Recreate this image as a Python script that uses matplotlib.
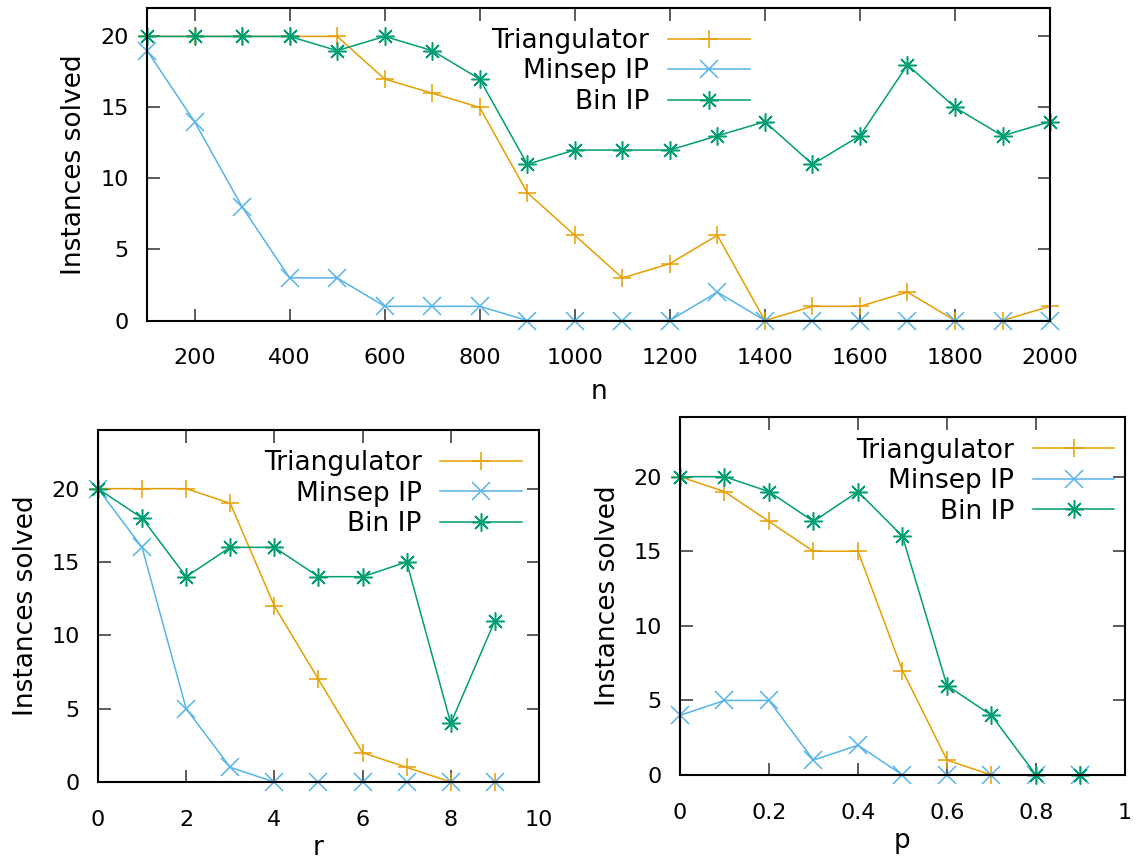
import matplotlib.pyplot as plt
from matplotlib.ticker import FuncFormatter

# data
n_vals = [100, 200, 300, 400, 500, 600, 700, 800, 900, 1000,
          1100, 1200, 1300, 1400, 1500, 1600, 1700, 1800, 1900, 2000]
n_tri = [20, 20, 20, 20, 20, 17, 16, 15, 9, 6, 3, 4, 6, 0, 1, 1, 2, 0, 0, 1]
n_minsep = [19, 14, 8, 3, 3, 1, 1, 1, 0, 0, 0, 0, 2, 0, 0, 0, 0, 0, 0, 0]
n_bin = [20, 20, 20, 20, 19, 20, 19, 17, 11, 12, 12, 12, 13, 14, 11, 13, 18, 15, 13, 14]

r_vals = [0, 1, 2, 3, 4, 5, 6, 7, 8, 9]
r_tri = [20, 20, 20, 19, 12, 7, 2, 1, 0, 0]
r_minsep = [20, 16, 5, 1, 0, 0, 0, 0, 0, 0]
r_bin = [20, 18, 14, 16, 16, 14, 14, 15, 4, 11]

p_vals = [0, 0.1, 0.2, 0.3, 0.4, 0.5, 0.6, 0.7, 0.8, 0.9]
p_tri = [20, 19, 17, 15, 15, 7, 1, 0, 0, 0]
p_minsep = [4, 5, 5, 1, 2, 0, 0, 0, 0, 0]
p_bin = [20, 20, 19, 17, 19, 16, 6, 4, 0, 0]

labels = ['Triangulator', 'Minsep IP', 'Bin IP']
colors = ['#e69f00', '#56b4e9', '#009e73']
markers = ['+', 'x', (8, 2, 0)]

plt.rcParams['font.family'] = 'DejaVu Sans'

fig = plt.figure(figsize=(11.39, 8.6), dpi=100)


def panel(rect, x, series, xlim, ylim, xticks, xlabel, legend_anchor):
    ax = fig.add_axes(rect)
    for ys, lab, c, m in zip(series, labels, colors, markers):
        ax.plot(x, ys, color=c, lw=1.1, marker=m, markersize=13,
                markeredgewidth=1.1, label=lab, clip_on=False)
    ax.set_xlim(*xlim)
    ax.set_ylim(*ylim)
    ax.set_xticks(xticks)
    ax.set_yticks([0, 5, 10, 15, 20])
    ax.xaxis.set_major_formatter(FuncFormatter(lambda v, pos: '%g' % v))
    ax.tick_params(direction='in', top=True, right=True, length=9, width=1.2,
                   labelsize=16, color='0.25')
    ax.tick_params(axis='x', pad=20)
    ax.tick_params(axis='y', pad=13)
    for s in ax.spines.values():
        s.set_linewidth(1.5)
    ax.set_xlabel(xlabel, fontsize=19)
    ax.set_ylabel('Instances solved', fontsize=19)
    ax.legend(loc='upper right', bbox_to_anchor=legend_anchor, frameon=False,
              markerfirst=False, fontsize=19, handlelength=3.1,
              labelspacing=0.17, handletextpad=0.7, borderaxespad=0.0)
    return ax


ax1 = panel([0.1291, 0.6273, 0.7928, 0.3634], n_vals, [n_tri, n_minsep, n_bin],
            (100, 2000), (0, 22), range(200, 2001, 200), 'n', (0.679, 0.97))
ax1.xaxis.labelpad = 8
ax1.yaxis.labelpad = 10

ax2 = panel([0.0860, 0.0907, 0.3872, 0.4093], r_vals, [r_tri, r_minsep, r_bin],
            (0, 10), (0, 24), range(0, 11, 2), 'r', (0.985, 0.973))
ax2.yaxis.labelpad = 9

ax3 = panel([0.5970, 0.0988, 0.3907, 0.4163], p_vals, [p_tri, p_minsep, p_bin],
            (0, 1), (0, 24), [0, 0.2, 0.4, 0.6, 0.8, 1.0], 'p', (1.0, 0.972))
ax3.yaxis.labelpad = 9

fig.savefig('out.png', dpi=100)
